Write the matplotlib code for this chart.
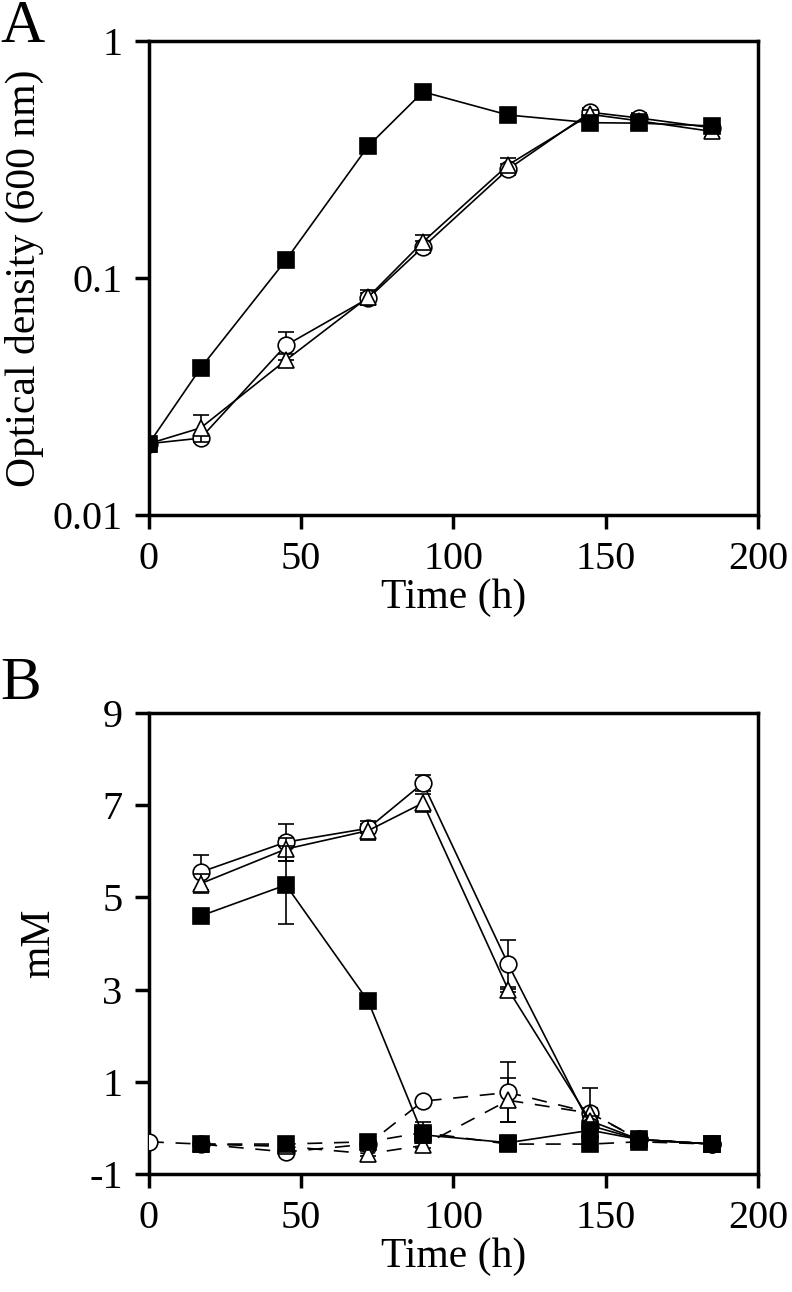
import matplotlib
matplotlib.use("Agg")
import matplotlib.pyplot as plt
import numpy as np

plt.rcParams['font.family'] = ['Liberation Serif', 'DejaVu Serif']
plt.rcParams['axes.unicode_minus'] = False

# panel A - optical density
time_a = [0, 17, 45, 72, 90, 118, 145, 161, 185]
od_circle = [0.020, 0.0211, 0.052, 0.082, 0.135, 0.288, 0.50, 0.473, 0.43]
od_circle_err = [0, 0, 0.007, 0.004, 0.008, 0.015, 0.02, 0.025, 0.015]
od_triangle = [0.020, 0.0233, 0.045, 0.083, 0.142, 0.30, 0.49, 0.46, 0.415]
od_triangle_err = [0, 0.003, 0.003, 0.006, 0.01, 0.02, 0.02, 0.03, 0.02]
od_square = [0.020, 0.0417, 0.119, 0.36, 0.61, 0.487, 0.452, 0.45, 0.438]
od_square_err = [0, 0.002, 0.004, 0.015, 0.02, 0.015, 0.015, 0.02, 0.02]

# panel B - concentrations (mM)
time_b = [17, 45, 72, 90, 118, 145, 161, 185]
time_b0 = [0, 17, 45, 72, 90, 118, 145, 161, 185]
sub_circle = [5.55, 6.2, 6.5, 7.48, 3.55, 0.05, -0.25, -0.35]
sub_circle_err = [0.38, 0.4, 0.1, 0.18, 0.53, 0.1, 0.05, 0.05]
sub_triangle = [5.3, 6.05, 6.45, 7.05, 3.0, 0.15, -0.25, -0.35]
sub_triangle_err = [0.2, 0.25, 0.2, 0.2, 0.05, 0.1, 0.05, 0.05]
sub_square = [4.6, 5.27, 2.75, -0.15, -0.32, -0.05, -0.25, -0.35]
sub_square_err = [0.1, 0.85, 0.1, 0.1, 0.05, 0.1, 0.05, 0.05]
prod_circle = [-0.3, -0.35, -0.52, -0.35, 0.58, 0.77, 0.33, -0.25, -0.35]
prod_circle_err = [0, 0.05, 0.05, 0.05, 0.05, 0.65, 0.1, 0.05, 0.05]
prod_triangle = [-0.35, -0.4, -0.56, -0.38, 0.6, 0.32, -0.25, -0.35]
prod_triangle_err = [0.05, 0.05, 0.05, 0.05, 0.48, 0.55, 0.05, 0.05]
prod_square = [-0.35, -0.35, -0.3, -0.1, -0.35, -0.35, -0.3, -0.35]
prod_square_err = [0.05, 0.05, 0.05, 0.22, 0.05, 0.05, 0.05, 0.05]

fig = plt.figure(figsize=(7.92, 12.92), dpi=100)
axA = fig.add_axes([0.188, 0.6014, 0.769, 0.3669])
axB = fig.add_axes([0.188, 0.0913, 0.769, 0.3568])

ms = 12
common = dict(color='black', lw=1.2, elinewidth=1.2, capsize=6, capthick=1.2, markersize=ms,
              markeredgecolor='black', markeredgewidth=1.2)


def series(ax, x, y, e, marker, fill, ls='-', dashes=None, z=3):
    cont = ax.errorbar(x, y, yerr=e, fmt=marker, linestyle=ls, markerfacecolor=fill,
                       zorder=z, **common)
    if dashes is not None:
        cont[0].set_dashes(dashes)
    return cont


series(axA, time_a, od_circle, od_circle_err, 'o', 'white', z=3)
series(axA, time_a, od_triangle, od_triangle_err, '^', 'white', z=4)
series(axA, time_a, od_square, od_square_err, 's', 'black', z=5)

axA.set_yscale('log')
axA.set_ylim(0.01, 1)
axA.set_yticks([0.01, 0.1, 1])
axA.set_yticklabels(['0.01', '0.1', '1'])
axA.minorticks_off()
axA.set_ylabel('Optical density (600 nm)', fontsize=30, labelpad=6)

dash = (9, 7)
series(axB, time_b0, prod_circle, prod_circle_err, 'o', 'white', ls='--', dashes=dash, z=3)
series(axB, time_b, prod_triangle, prod_triangle_err, '^', 'white', ls='--', dashes=dash, z=3)
series(axB, time_b, prod_square, prod_square_err, 's', 'black', ls='--', dashes=dash, z=4)
series(axB, time_b, sub_circle, sub_circle_err, 'o', 'white', z=5)
series(axB, time_b, sub_triangle, sub_triangle_err, '^', 'white', z=6)
series(axB, time_b, sub_square, sub_square_err, 's', 'black', z=7)

axB.set_ylim(-1, 9)
axB.set_yticks([-1, 1, 3, 5, 7, 9])
axB.set_ylabel('mM', fontsize=30, labelpad=22)

for ax in (axA, axB):
    ax.set_xlim(0, 200)
    ax.set_xticks([0, 50, 100, 150, 200])
    ax.set_xlabel('Time (h)', fontsize=30, labelpad=0)
    ax.tick_params(direction='out', length=10, width=2.5, labelsize=29, pad=9,
                   top=False, right=False)
    for sp in ax.spines.values():
        sp.set_linewidth(2.5)
    for lab in ax.get_xticklabels() + ax.get_yticklabels():
        lab.set_clip_on(False)

fig.text(0.0, 1.0, 'A', fontsize=44, va='top', ha='left')
fig.text(0.0, 0.492, 'B', fontsize=44, va='top', ha='left')

fig.savefig('out.png', dpi=100)
